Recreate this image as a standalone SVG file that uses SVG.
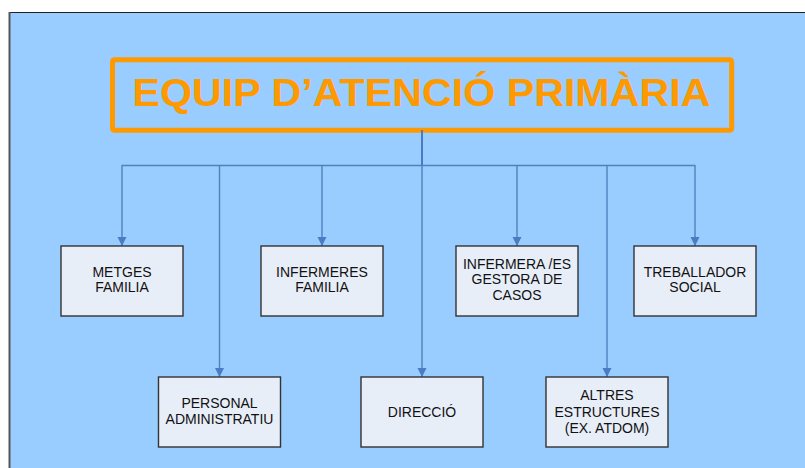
<svg xmlns="http://www.w3.org/2000/svg" width="805" height="468" viewBox="0 0 805 468">
<style>
.box{fill:#e8eef8;stroke:#333;stroke-width:1.4}
.lbl{font-family:"Liberation Sans",Arial,sans-serif;font-size:14px;fill:#111;text-anchor:middle}
.con{stroke:#4f81bd;stroke-width:1.4;fill:none}
.title{font-family:"Liberation Sans",Arial,sans-serif;font-weight:bold;font-size:38px;fill:#ff9900;text-anchor:middle}
</style>
<defs>
<marker id="ah" markerUnits="userSpaceOnUse" markerWidth="10" markerHeight="10" refX="9" refY="4.5" orient="auto">
<path d="M0,0 L9,4.5 L0,9 z" fill="#4a7cc4"/>
</marker>
</defs>
<rect x="0" y="0" width="805" height="468" fill="#ffffff"/>
<rect x="9" y="12.5" width="800" height="460" fill="#99ccff"/>
<line x1="9" y1="12.5" x2="805" y2="12.5" stroke="#222" stroke-width="1"/>
<line x1="9.5" y1="12" x2="9.5" y2="468" stroke="#555" stroke-width="2"/>
<g id="title">
<rect x="112.5" y="59.8" width="619.2" height="70.4" rx="2" fill="none" stroke="#ff9900" stroke-width="5"/>
<text class="title" x="421.5" y="106" textLength="578" lengthAdjust="spacingAndGlyphs">EQUIP D’ATENCIÓ PRIMÀRIA</text>
</g>
<g id="connectors">
<line x1="422" y1="130" x2="422" y2="165.5" stroke="#4a7ac0" stroke-width="2"/>
<line class="con" x1="121.5" y1="165.5" x2="695.5" y2="165.5"/>
<line class="con" x1="122" y1="165.5" x2="122" y2="246" marker-end="url(#ah)"/>
<line class="con" x1="219.5" y1="165.5" x2="219.5" y2="377" marker-end="url(#ah)"/>
<line class="con" x1="322" y1="165.5" x2="322" y2="246" marker-end="url(#ah)"/>
<line class="con" x1="422" y1="165.5" x2="422" y2="377" marker-end="url(#ah)"/>
<line class="con" x1="517" y1="165.5" x2="517" y2="246" marker-end="url(#ah)"/>
<line class="con" x1="607" y1="165.5" x2="607" y2="377" marker-end="url(#ah)"/>
<line class="con" x1="695" y1="165.5" x2="695" y2="246" marker-end="url(#ah)"/>
</g>
<g id="metges">
<rect class="box" x="61" y="246" width="122" height="70"/>
<text class="lbl" x="122" y="276.7">METGES</text>
<text class="lbl" x="122" y="291.7">FAMILIA</text>
</g>
<g id="infermeres">
<rect class="box" x="261" y="246" width="122" height="70"/>
<text class="lbl" x="322" y="276.7">INFERMERES</text>
<text class="lbl" x="322" y="291.7">FAMILIA</text>
</g>
<g id="gestora">
<rect class="box" x="456" y="246" width="122" height="70"/>
<text class="lbl" x="517" y="269">INFERMERA /ES</text>
<text class="lbl" x="517" y="284.3">GESTORA DE</text>
<text class="lbl" x="517" y="299.7">CASOS</text>
</g>
<g id="treballador">
<rect class="box" x="634" y="246" width="122" height="70"/>
<text class="lbl" x="695" y="276.7">TREBALLADOR</text>
<text class="lbl" x="695" y="291.7">SOCIAL</text>
</g>
<g id="personal">
<rect class="box" x="158.5" y="377" width="122" height="70"/>
<text class="lbl" x="219.5" y="408.3">PERSONAL</text>
<text class="lbl" x="219.5" y="424.3">ADMINISTRATIU</text>
</g>
<g id="direccio">
<rect class="box" x="361" y="377" width="122" height="70"/>
<text class="lbl" x="422" y="416.7">DIRECCIÓ</text>
</g>
<g id="altres">
<rect class="box" x="546" y="377" width="122" height="70"/>
<text class="lbl" x="607" y="400">ALTRES</text>
<text class="lbl" x="607" y="416.7">ESTRUCTURES</text>
<text class="lbl" x="607" y="433.3">(EX. ATDOM)</text>
</g>
</svg>
